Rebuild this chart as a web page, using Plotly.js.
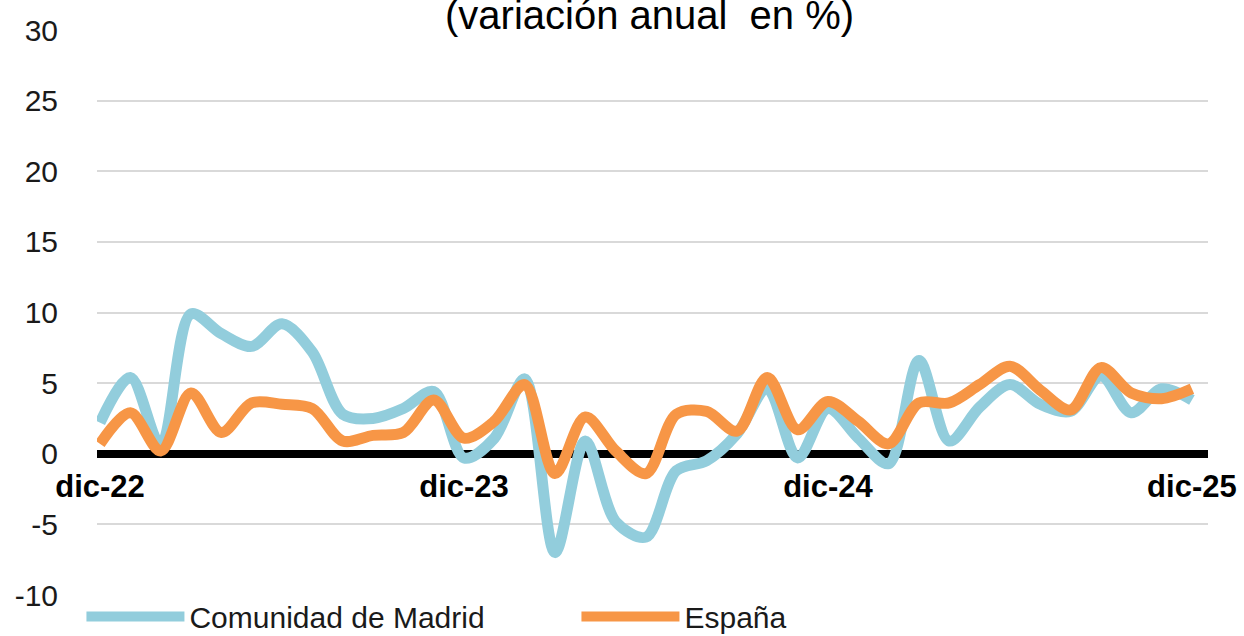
<!DOCTYPE html>
<html>
<head>
<meta charset="utf-8">
<script src="https://cdn.plot.ly/plotly-3.0.1.min.js"></script>
<style>html,body{margin:0;padding:0;background:#fff;}#chart{width:1244px;height:636px;}</style>
</head>
<body>
<div id="chart"></div>
<script>
const months = ["dic-22","ene-23","feb-23","mar-23","abr-23","may-23","jun-23","jul-23","ago-23","sep-23","oct-23","nov-23",
  "dic-23","ene-24","feb-24","mar-24","abr-24","may-24","jun-24","jul-24","ago-24","sep-24","oct-24","nov-24",
  "dic-24","ene-25","feb-25","mar-25","abr-25","may-25","jun-25","jul-25","ago-25","sep-25","oct-25","nov-25","dic-25"];
const madrid = [2.2,5.4,0.6,9.9,8.5,7.6,9.2,7.2,2.8,2.5,3.2,4.4,
  -0.3,1.1,5.3,-7.0,0.9,-4.8,-5.9,-1.2,-0.5,1.4,4.6,-0.3,
  3.2,1.1,-0.7,6.6,0.9,3.3,4.9,3.5,3.0,5.5,2.9,4.6,3.8];
const espana = [0.7,2.9,0.2,4.3,1.5,3.6,3.5,3.2,0.9,1.3,1.5,3.8,
  1.1,2.3,4.9,-1.4,2.6,0.2,-1.4,2.8,3.0,1.6,5.4,1.7,
  3.7,2.3,0.7,3.6,3.6,4.9,6.2,4.5,3.1,6.1,4.3,3.9,4.6];
const tickLabels = ["dic-22","dic-23","dic-24","dic-25"];
const yTickVals = [-10,-5,0,5,10,15,20,25,30];
const yTickText = ["-10","-5","0","5","10","15","20","25","30"];
const seriesNames = ["Comunidad de Madrid","España"];
const titleText = "(variación anual  en %)";

const FONT = "'Liberation Sans', Arial, sans-serif";
const traces = [
  {x: months, y: madrid, name: seriesNames[0], type: "scatter", mode: "lines",
   line: {color: "#92CDDC", width: 11, shape: "spline", smoothing: 0.9}},
  {x: months, y: espana, name: seriesNames[1], type: "scatter", mode: "lines",
   line: {color: "#F79646", width: 11, shape: "spline", smoothing: 0.9}}
];
const layout = {
  width: 1244, height: 636,
  margin: {l: 97, r: 36, t: 30, b: 41, autoexpand: false},
  paper_bgcolor: "#fff", plot_bgcolor: "#fff",
  font: {family: FONT, color: "#000", size: 30},
  showlegend: true,
  legend: {orientation: "h", x: -0.014, xanchor: "left", y: -0.038, yanchor: "middle",
    font: {family: FONT, size: 30, color: "#1a1a1a"}, itemwidth: 98,
    entrywidth: 382, entrywidthmode: "pixels", bgcolor: "rgba(0,0,0,0)"},
  xaxis: {type: "category", range: [-0.1, 36.53], showgrid: false, zeroline: false,
    anchor: "free", position: 0.2513, side: "bottom", showline: false, ticks: "",
    tickvals: tickLabels, ticktext: tickLabels, ticklabelstandoff: 12,
    tickfont: {family: FONT, size: 31, color: "#000", weight: "bold"}},
  yaxis: {range: [-10, 30], tickvals: yTickVals, ticktext: yTickText, showgrid: true,
    gridcolor: "#d9d9d9", gridwidth: 2, zeroline: true, zerolinecolor: "#000", zerolinewidth: 8,
    showline: false, ticks: "", ticklabelstandoff: 38,
    tickfont: {family: FONT, size: 30, color: "#1a1a1a"}},
  annotations: [{text: titleText, xref: "paper", yref: "paper", x: 0.497, y: 1.026,
    xanchor: "center", yanchor: "middle", showarrow: false,
    font: {family: FONT, size: 40, color: "#000"}}]
};
Plotly.newPlot("chart", traces, layout, {staticPlot: true, displayModeBar: false});
</script>
</body>
</html>
